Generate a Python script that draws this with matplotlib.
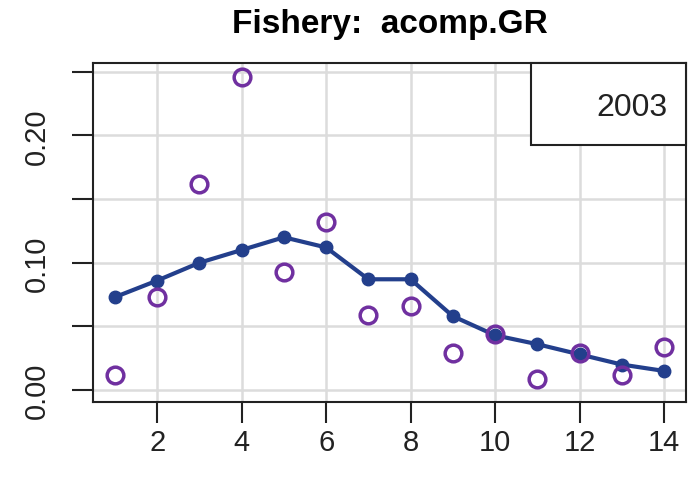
import numpy as np
import matplotlib
matplotlib.use("Agg")
import matplotlib.pyplot as plt

plt.rcParams['font.family'] = ['Liberation Sans', 'DejaVu Sans']

ages = np.arange(1, 15)
obs = [0.012, 0.073, 0.162, 0.246, 0.093, 0.132, 0.059, 0.066, 0.029, 0.044, 0.009, 0.029, 0.012, 0.034]
pred = [0.073, 0.086, 0.100, 0.110, 0.120, 0.112, 0.087, 0.087, 0.058, 0.043, 0.036, 0.028, 0.020, 0.015]
year = "2003"
title = "Fishery:  acomp.GR"

fig = plt.figure(figsize=(6.98, 4.81), dpi=100)
ax = fig.add_axes([0.1332, 0.1622, 0.8496, 0.7047])

ax.set_xlim(0.479, 14.521)
ax.set_ylim(-0.0094, 0.2569)

xt = np.arange(2, 15, 2)
yt = np.arange(0, 0.26, 0.05)
ax.set_xticks(xt)
ax.set_yticks(yt)
ax.set_yticklabels(["0.00", "", "0.10", "", "0.20", ""], rotation=90, va="center")
ax.grid(True, color="#dcdcdc", linewidth=1.8)
ax.set_axisbelow(True)

ax.plot(ages, pred, color="#233f8c", linewidth=3, marker="o", markersize=9, zorder=3)
ax.plot(ages, obs, linestyle="none", marker="o", markersize=12, markerfacecolor="none",
        markeredgecolor="#7030a0", markeredgewidth=2.5, zorder=4)

for s in ax.spines.values():
    s.set_linewidth(1.5)
    s.set_color("#222222")
ax.tick_params(axis="both", direction="out", length=15, width=1.5, labelsize=21, colors="#222222")
ax.tick_params(axis="x", pad=4)
ax.tick_params(axis="y", pad=15)

ax.set_title(title, fontsize=24, fontweight="bold", pad=22)

# legend-like box with the year
box = plt.Rectangle((0.7386, 0.758), 0.2614, 0.242, transform=ax.transAxes, facecolor="white",
                    edgecolor="#222222", linewidth=1.5, zorder=5, clip_on=False)
ax.add_patch(box)
ax.text(0.968, 0.870, year, transform=ax.transAxes, ha="right", va="center", fontsize=23,
        color="#222222", zorder=6)

fig.savefig("out.png", dpi=100)
